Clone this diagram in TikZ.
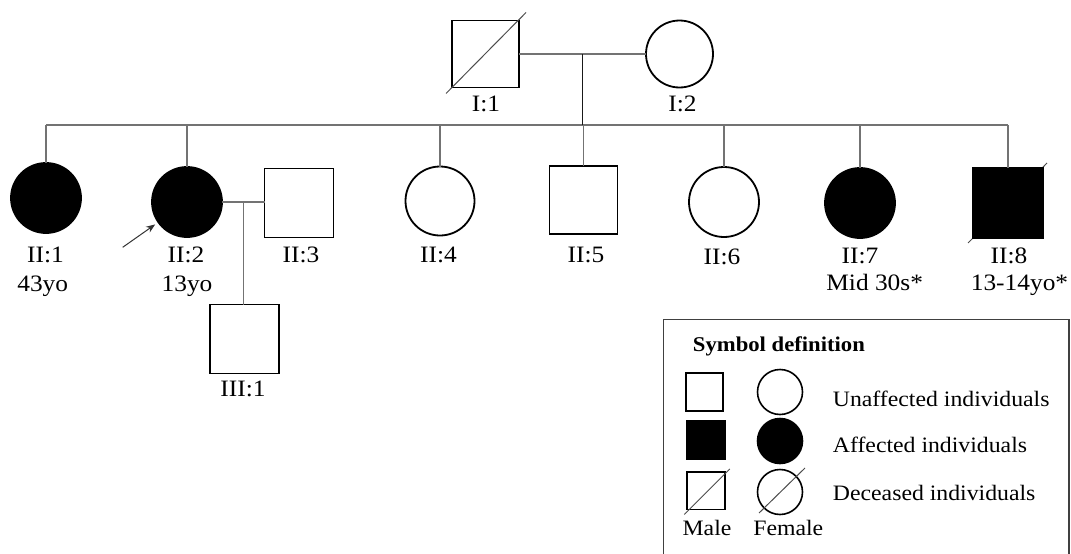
\documentclass[tikz,border=0pt]{standalone}
\usepackage{fontspec}
\setmainfont{Liberation Serif}[FakeStretch=1.08]
\usetikzlibrary{arrows.meta,calc,backgrounds}
\newcommand\lblfont{\fontsize{23.5}{28}\selectfont}
\newcommand\keyfont{\fontsize{22}{26}\selectfont}
\newcommand\keytitlefont{\fontsize{21}{25}\selectfont\bfseries}

\tikzset{
  person/.style={draw=black, line width=1.8pt, inner sep=0pt, outer sep=0pt},
  male/.style={person, rectangle, minimum size=#1},
  male/.default=69,
  female/.style={person, circle, minimum size=#1},
  female/.default=70,
  affected/.style={fill=black},
  link/.style={draw=black!55, line width=1.4pt},
  stem/.style={draw=black!90, line width=1.1pt},
  dmark/.style={draw=black!70, line width=1pt},
  lbl/.style={anchor=base, inner sep=0pt, font=\lblfont},
  keytxt/.style={anchor=base west, inner sep=0pt, font=\keyfont},
  keybox/.style={draw=black!75, line width=1.4pt},
  pointer/.style={draw=black!80, line width=1pt, -{Stealth[length=9pt,width=7pt]}},
}

\begin{document}
\begin{tikzpicture}[x=1pt,y=-1pt]
\useasboundingbox (0,0) rectangle (1071,554);

% generation I
\node[male=67] (I1) at (485.5,54) {};
\node[female=67] (I2) at (679.5,54) {};
\draw[dmark] ($(I1.south west)+(-6,6)$) -- ($(I1.north east)+(7,-8)$);

% generation II
\node[female, affected] (II1) at (46,198) {};
\node[female, affected] (II2) at (187,202) {};
\node[male] (II3) at (299,203) {};
\node[female=69] (II4) at (440,201) {};
\node[male=68] (II5) at (583.5,200) {};
\node[female] (II6) at (724,202) {};
\node[female, affected] (II7) at (860,203) {};
\node[male=70, affected] (II8) at (1008,203) {};
\begin{pgfonlayer}{background}
  \draw[dmark] ($(II8.south west)+(-5,5)$) -- ($(II8.north east)+(4,-5)$);
\end{pgfonlayer}

% generation III
\node[male] (III1) at (244.5,339) {};

% parents' union and line of descent
\draw[link] (I1) -- coordinate[midway] (m1) (I2);
\coordinate (sib) at (m1 |- 0,125);
\draw[link] (II1.north |- sib) -- (II8.north |- sib);
\draw[stem] (m1) -- (sib);
\foreach \c in {II1,II2,II4,II5,II6,II7,II8}
  \draw[link] (\c.north) -- (\c.north |- sib);

% union of II:2 and II:3 with their child
\draw[link] (II2.east) -- coordinate[midway] (m2) (II3.west |- II2.east);
\draw[link] (m2) -- (m2 |- III1.north);

% proband
\coordinate (ptr) at (122.7,247.3);
\draw[pointer, shorten >=4pt] (ptr) -- (II2);

% labels
\node[lbl] (tI1) at (486,111.7) {I:1};
\node[lbl] (tI2) at (682.5,111.7) {I:2};
\node[lbl] (tII1) at (45.5,262.7) {II:1};
\node[lbl] (aII1) at (42.7,291.7) {43yo};
\node[lbl] (tII2) at (186,262.7) {II:2};
\node[lbl] (aII2) at (187,291.7) {13yo};
\node[lbl] (tII3) at (301,262.7) {II:3};
\node[lbl] (tII4) at (438.5,262.7) {II:4};
\node[lbl] (tII5) at (586,262.7) {II:5};
\node[lbl] (tII6) at (722,264) {II:6};
\node[lbl] (tII7) at (860,263.3) {II:7};
\node[lbl] (aII7) at (874.7,290.7) {Mid 30s*};
\node[lbl] (tII8) at (1009,263.3) {II:8};
\node[lbl] (aII8) at (1019.5,290.7) {13-14yo*};
\node[lbl] (tIII1) at (243,396) {III:1};

% symbol key
\draw[keybox] (663.5,319.5) rectangle (1069,580);
\node[anchor=base west, inner sep=0pt, font=\keytitlefont] (ktitle) at (692.7,351.7) {Symbol definition};

\node[male=37.5, line width=1.6pt] (kmU) at (704.5,392) {};
\node[female=45, line width=1.6pt] (kfU) at (780,392) {};
\node[male=38.5, line width=1.6pt, affected] (kmA) at (706,440) {};
\node[female=45, line width=1.6pt, affected] (kfA) at (780,441) {};
\node[male=37.5, line width=1.6pt] (kmD) at (706,490.7) {};
\node[female=45, line width=1.6pt] (kfD) at (780,492) {};
\draw[dmark] ($(kmD.south west)+(-3,5)$) -- ($(kmD.north east)+(5,-3)$);
\draw[dmark] ($(kfD)+(-21,21)$) -- ($(kfD)+(25,-24)$);

\node[keytxt] (kU) at (832.7,406.7) {Unaffected individuals};
\node[keytxt] (kA) at (832.7,452.3) {Affected individuals};
\node[keytxt] (kD) at (832.7,500) {Deceased individuals};
\node[anchor=base, inner sep=0pt, font=\keyfont] (kM) at (707,535) {Male};
\node[anchor=base, inner sep=0pt, font=\keyfont] (kF) at (788.3,535) {Female};
\end{tikzpicture}
\end{document}
